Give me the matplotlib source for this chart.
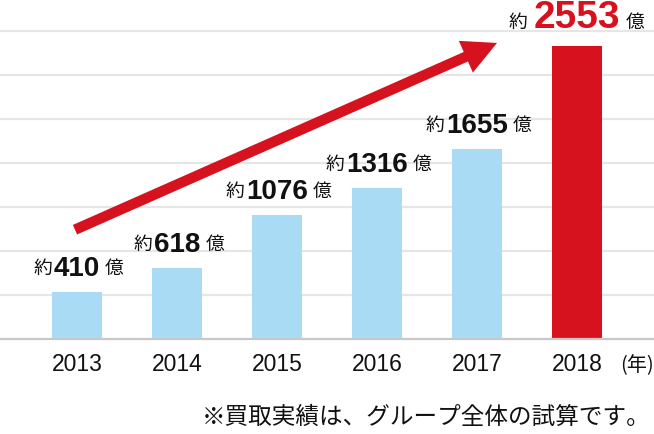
"""Purchase volume bar chart (2013-2018) with growth arrow."""

import matplotlib

matplotlib.use("Agg")
import matplotlib.pyplot as plt
import numpy as np
from matplotlib.patches import FancyArrowPatch

# data
years = ["2013", "2014", "2015", "2016", "2017", "2018"]
values = [410, 618, 1076, 1316, 1655, 2553]
prefix = "約"
unit = "億"
year_unit = "(年)"
footnote = "※買取実績は、グループ全体の試算です。"

# growth arrow, in (bar index, value)
arrow_from = (-0.02, 950)
arrow_to = (4.2, 2580)

# style
BLUE = "#a9dcf4"
RED = "#d7121f"
GRID = "#e6e6e6"
BASE = "#c8c8c8"
TEXT = "#111111"
GRID_STEP = 384
Y_MAX = 2955
NUM_FONT = ["Liberation Sans", "DejaVu Sans"]
JP_FONT = ["Noto Sans CJK JP", "DejaVu Sans"]

fig = plt.figure(figsize=(6.54, 4.34), dpi=100)
ax = fig.add_axes([0, 0.22, 1, 0.78])

x = np.arange(len(years))
colors = [BLUE] * (len(years) - 1) + [RED]
ax.bar(x, values, width=0.5, color=colors, zorder=2)

ax.set_xlim(-0.77, len(years) - 0.23)
ax.set_ylim(0, Y_MAX)
ax.set_yticks(np.arange(1, 8) * GRID_STEP)
ax.yaxis.grid(True, color=GRID, linewidth=1.6, zorder=0)
ax.set_axisbelow(True)
ax.tick_params(left=False, labelleft=False, length=0, pad=10.5)
for side in ("left", "right", "top"):
    ax.spines[side].set_visible(False)
ax.spines["bottom"].set_color(BASE)
ax.spines["bottom"].set_linewidth(1.6)
ax.set_xticks(x)
ax.set_xticklabels(years, family=NUM_FONT, fontsize=16.5, color=TEXT)

ax.annotate(year_unit, xy=(len(years) - 0.4, 0), xytext=(0, -27),
            textcoords="offset pixels", ha="center", va="center",
            family=JP_FONT, fontsize=14.5, color=TEXT)

# value labels: 約 + number + 億
for i, v in enumerate(values):
    last = i == len(values) - 1
    num = ax.annotate(f"{v}", xy=(i, v), xytext=(0, 18 if last else 16),
                      textcoords="offset pixels", ha="center", va="baseline",
                      family=NUM_FONT, fontweight="bold",
                      fontsize=28 if last else 20,
                      color=RED if last else TEXT, zorder=5)
    ax.annotate(prefix, xy=(0, 0), xycoords=num,
                xytext=(-6 if last else -2, 3), textcoords="offset pixels",
                ha="right", va="bottom", family=JP_FONT, fontsize=13.5,
                color=TEXT)
    ax.annotate(unit, xy=(1, 0), xycoords=num,
                xytext=(5, 3), textcoords="offset pixels",
                ha="left", va="bottom", family=JP_FONT, fontsize=13.5,
                color=TEXT)

arrow = FancyArrowPatch(
    arrow_from, arrow_to,
    arrowstyle="simple,head_length=24.5,head_width=25,tail_width=7.5",
    mutation_scale=1, color=RED, shrinkA=0, shrinkB=0, zorder=4,
    linewidth=0,
)
ax.add_patch(arrow)

fig.text(651 / 654, 17 / 434, footnote, ha="right", va="center",
         family=JP_FONT, fontsize=17, color=TEXT)

fig.savefig("out.png", dpi=100)
plt.close(fig)
